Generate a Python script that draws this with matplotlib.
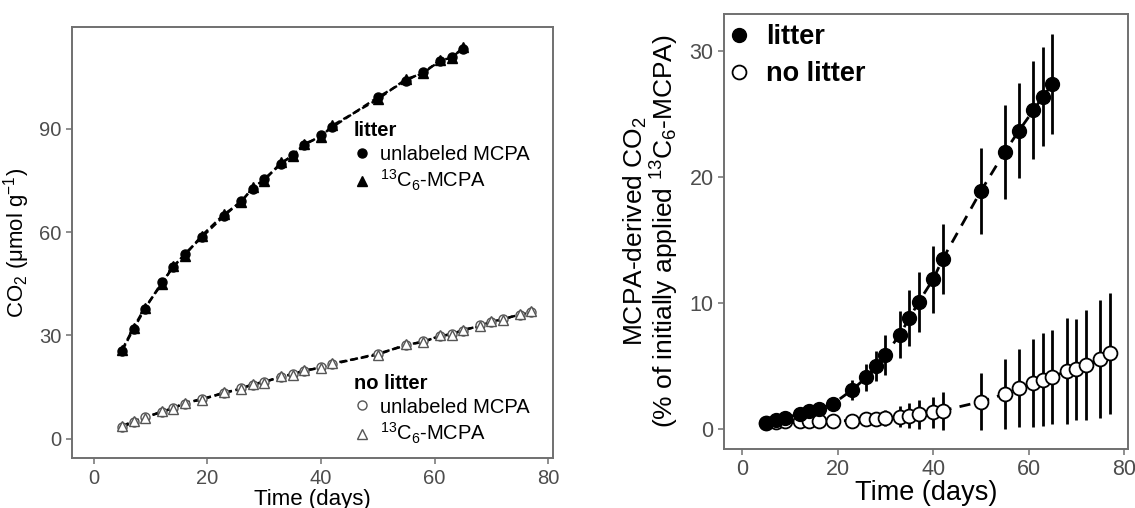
import matplotlib
matplotlib.use("Agg")
import matplotlib.pyplot as plt
from matplotlib.lines import Line2D

# --- data ---
days_litter = [5, 7, 9, 12, 14, 16, 19, 23, 26, 28, 30, 33, 35, 37, 40, 42, 50, 55, 58, 61, 63, 65]
days_nolitter = [5, 7, 9, 12, 14, 16, 19, 23, 26, 28, 30, 33, 35, 37, 40, 42, 50, 55, 58, 61, 63, 65,
                 68, 70, 72, 75, 77]

# left panel: cumulative CO2 (umol g-1)
co2_litter_unlab = [25.6, 31.9, 37.7, 45.5, 49.8, 53.7, 58.5, 64.8, 69.2, 72.6, 75.5, 79.8, 82.5,
                    85.2, 88.1, 90.5, 99.2, 104.0, 106.6, 109.6, 111.0, 113.2]
co2_litter_lab = [25.9, 32.3, 38.1, 45.0, 50.2, 53.2, 59.0, 65.3, 68.8, 73.1, 75.0, 80.3, 82.0,
                  85.7, 87.6, 91.0, 98.6, 104.5, 106.1, 110.1, 110.5, 113.7]
co2_nolitter_unlab = [3.4, 4.8, 6.3, 7.7, 9.0, 10.2, 11.6, 13.2, 14.7, 15.7, 16.6, 17.9, 18.9, 19.6,
                      20.8, 21.6, 24.7, 27.1, 28.3, 29.7, 30.5, 31.4, 32.9, 33.9, 34.8, 36.0, 36.8]
co2_nolitter_lab = [3.7, 5.1, 6.0, 8.0, 8.7, 10.5, 11.3, 13.5, 14.4, 16.0, 16.3, 18.2, 18.6, 19.9,
                    20.5, 21.9, 24.4, 27.4, 28.0, 30.0, 30.2, 31.7, 32.6, 34.2, 34.5, 36.3, 37.1]

# right panel: MCPA-derived CO2 (% of applied) with error bars
pct_litter = [0.5, 0.7, 0.9, 1.2, 1.4, 1.6, 2.0, 3.1, 4.1, 5.0, 5.9, 7.5, 8.8, 10.1, 11.9, 13.5,
              18.9, 22.0, 23.7, 25.3, 26.4, 27.4]
err_litter = [0.3, 0.3, 0.3, 0.3, 0.35, 0.35, 0.4, 0.8, 1.05, 1.2, 1.6, 1.9, 2.2, 2.4, 2.65, 2.8,
              3.4, 3.7, 3.75, 3.9, 3.9, 3.95]
pct_nolitter = [0.5, 0.55, 0.6, 0.6, 0.65, 0.65, 0.66, 0.66, 0.77, 0.79, 0.85, 0.98, 1.06, 1.16,
                1.32, 1.46, 2.17, 2.78, 3.23, 3.68, 3.9, 4.15, 4.6, 4.74, 5.08, 5.56, 6.0]
err_nolitter = [0.2, 0.2, 0.2, 0.2, 0.2, 0.2, 0.25, 0.3, 0.4, 0.55, 0.65, 0.85, 1.0, 1.14, 1.25,
                1.5, 2.25, 2.8, 3.1, 3.5, 3.7, 3.75, 4.2, 4.0, 4.36, 4.68, 4.77]

plt.rcParams['font.family'] = ['Liberation Sans', 'DejaVu Sans']
plt.rcParams['mathtext.fontset'] = 'custom'
plt.rcParams['mathtext.rm'] = 'Liberation Sans'
plt.rcParams['mathtext.it'] = 'Liberation Sans:italic'
plt.rcParams['mathtext.bf'] = 'Liberation Sans:bold'

FRAME = '#707070'
TICKTXT = '#4d4d4d'


def style_axes(ax, ticksize):
    for sp in ax.spines.values():
        sp.set_color(FRAME)
        sp.set_linewidth(1.4)
    ax.tick_params(colors=FRAME, labelcolor=TICKTXT, labelsize=ticksize, length=4, width=1.1)


fig = plt.figure(figsize=(11.35, 5.08), dpi=100)

# --- left panel ---
ax1 = fig.add_axes([0.0634, 0.0978, 0.4238, 0.849])
dash = (3, 1.6)
ax1.plot(days_litter, co2_litter_unlab, ls='--', dashes=dash, color='black', lw=1.7, zorder=2)
ax1.plot(days_litter, co2_litter_lab, ls='--', dashes=dash, color='black', lw=1.7, zorder=2)
ax1.plot(days_nolitter, co2_nolitter_unlab, ls='--', dashes=dash, color='black', lw=1.7, zorder=2)
ax1.plot(days_nolitter, co2_nolitter_lab, ls='--', dashes=dash, color='black', lw=1.7, zorder=2)

ax1.plot(days_litter, co2_litter_unlab, 'o', ms=6.5, color='black', ls='none', zorder=3)
ax1.plot(days_litter, co2_litter_lab, '^', ms=7, color='black', ls='none', zorder=3)
ax1.plot(days_nolitter, co2_nolitter_unlab, 'o', ms=6.5, mfc='white', mec='#555555', mew=1.0,
         ls='none', zorder=3)
ax1.plot(days_nolitter, co2_nolitter_lab, '^', ms=7, mfc='white', mec='#555555', mew=1.0,
         ls='none', zorder=3)

ax1.set_xlim(-3.85, 80.85)
ax1.set_ylim(-5.7, 119.6)
ax1.set_xticks([0, 20, 40, 60, 80])
ax1.set_yticks([0, 30, 60, 90])
ax1.set_xlabel('Time (days)', fontsize=16, labelpad=1)
ax1.set_ylabel('CO$_2$ (μmol g$^{-1}$)', fontsize=16, labelpad=5)
style_axes(ax1, 14.5)

lab13 = '$^{13}$C$_6$-MCPA'
h_lit = [Line2D([], [], marker='o', color='black', ls='none', ms=6.5),
         Line2D([], [], marker='^', color='black', ls='none', ms=7.5)]
h_nolit = [Line2D([], [], marker='o', mfc='white', mec='#555555', color='black', ls='none', ms=6.5),
           Line2D([], [], marker='^', mfc='white', mec='#555555', color='black', ls='none', ms=7.5)]
leg_kw = dict(loc='upper left', frameon=False, fontsize=14.5,
              title_fontproperties={'weight': 'bold', 'size': 14.5}, alignment='left',
              handlelength=0.8, handletextpad=0.5, labelspacing=0.22, borderaxespad=0)
leg1 = ax1.legend(h_lit, ['unlabeled MCPA', lab13], title='litter',
                  bbox_to_anchor=(0.569, 0.80), **leg_kw)
ax1.add_artist(leg1)
ax1.legend(h_nolit, ['unlabeled MCPA', lab13], title='no litter',
           bbox_to_anchor=(0.569, 0.214), **leg_kw)

# --- right panel ---
ax2 = fig.add_axes([0.6379, 0.1161, 0.356, 0.8563])
ax2.errorbar(days_nolitter, pct_nolitter, yerr=err_nolitter, fmt='o', ms=10, mfc='white',
             mec='black', mew=1.3, ecolor='black', elinewidth=2, capsize=0, zorder=3)
ax2.plot(days_nolitter, pct_nolitter, ls='--', dashes=(4, 3), color='black', lw=2, zorder=2)
ax2.errorbar(days_litter, pct_litter, yerr=err_litter, fmt='o', ms=10, mfc='black',
             mec='black', ecolor='black', elinewidth=2, capsize=0, zorder=4)
ax2.plot(days_litter, pct_litter, ls='--', dashes=(4, 3), color='black', lw=2, zorder=2)

ax2.set_xlim(-3.85, 80.85)
ax2.set_ylim(-1.59, 32.95)
ax2.set_xticks([0, 20, 40, 60, 80])
ax2.set_yticks([0, 10, 20, 30])
ax2.set_xlabel('Time (days)', fontsize=19.5, labelpad=0)
ax2.set_ylabel('MCPA-derived CO$_2$\n(% of initially applied $^{13}$C$_6$-MCPA)', fontsize=19,
               labelpad=6, linespacing=1.0)
style_axes(ax2, 15.5)

h2 = [Line2D([], [], marker='o', color='black', ls='none', ms=10),
      Line2D([], [], marker='o', mfc='white', mec='black', mew=1.3, ls='none', ms=10)]
ax2.legend(h2, ['litter', 'no litter'], loc='upper left', bbox_to_anchor=(-0.03, 1.014),
           frameon=False, prop={'weight': 'bold', 'size': 19.5}, handlelength=0.8,
           handletextpad=0.6, labelspacing=0.4, borderaxespad=0.2)

plt.savefig('out.png', dpi=100)
